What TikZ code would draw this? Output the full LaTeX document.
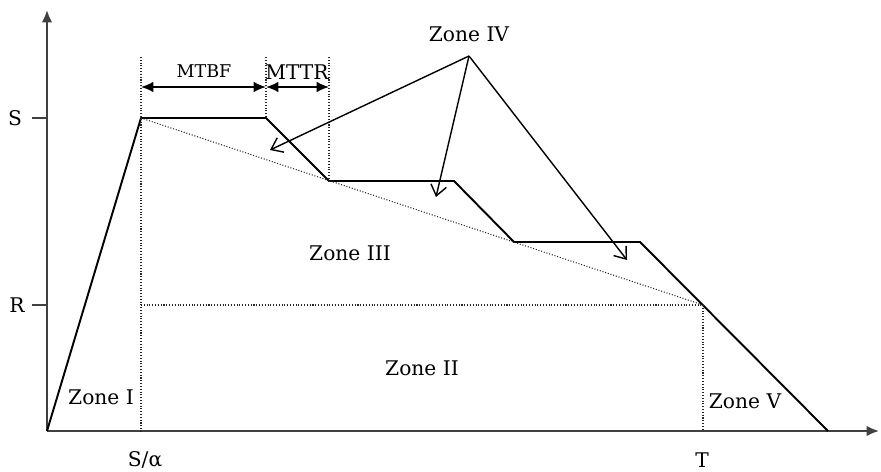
\documentclass[tikz,border=0pt]{standalone}
\usepackage{fontspec}
\setmainfont{DejaVu Serif}
\usetikzlibrary{arrows.meta}
\colorlet{axcol}{black!75}

\begin{document}
\begin{tikzpicture}[x=0.02cm, y=-0.02cm,
    lbl/.style={inner sep=0pt, font=\fontsize{11.5}{13}\selectfont},
    guide/.style={line width=0.6pt, densely dotted, black!85},
    curve/.style={line width=1.1pt, line join=round},
    dim/.style={line width=0.9pt, {Latex[length=7pt,width=6pt]}-{Latex[length=7pt,width=6pt]}},
    pointer/.style={line width=0.8pt, -{Straight Barb[length=6pt,width=9pt]}}]
  \useasboundingbox (0,0) rectangle (881,472);

  % axes
  \coordinate (O) at (47,431);
  \coordinate (ytop) at (47,10);
  \coordinate (xend) at (879,431);
  \draw[line width=1.2pt, axcol, -{Latex[length=7pt,width=6pt]}] (O) -- (ytop);
  \draw[line width=1.2pt, axcol, -{Latex[length=7pt,width=6pt]}] (O) -- (xend);
  \draw[line width=1.2pt, axcol] (32,118) -- (47,118);
  \draw[line width=1.2pt, axcol] (32,305) -- (47,305);
  \node[lbl] (lS) at (15,118) {S};
  \node[lbl] (lR) at (17,305) {R};
  \node[lbl] (lSa) at (145,460) {S/α};
  \node[lbl] (lT) at (702,460) {T};

  % breakdown profile
  \coordinate (p1) at (141,118);
  \coordinate (p2) at (266,118);
  \coordinate (p3) at (329,181);
  \coordinate (p4) at (454,181);
  \coordinate (p5) at (514,242);
  \coordinate (p6) at (640,242);
  \coordinate (pR) at (703,305);
  \coordinate (p7) at (828,431);
  \draw[curve] (O) -- (p1) -- (p2) -- (p3) -- (p4) -- (p5) -- (p6) -- (p7);

  % guide lines
  \draw[guide] (p1) -- (pR);
  \draw[guide] (141,57) -- (141,431);
  \draw[guide] (266,57) -- (p2);
  \draw[guide] (329,57) -- (p3);
  \draw[guide] (p1 |- pR) -- (pR);
  \draw[guide] (pR) -- (pR |- O);

  % MTBF / MTTR
  \draw[dim] (141,87) -- (266,87);
  \draw[dim] (266,87) -- (329,87);
  \node[lbl, font=\fontsize{10}{12}\selectfont] (mtbf) at (204,71) {MTBF};
  \node[lbl] (mttr) at (297,72) {MTTR};

  % zones
  \node[lbl] (z1) at (101,397) {Zone I};
  \node[lbl] (z2) at (422,368) {Zone II};
  \node[lbl] (z3) at (350,253) {Zone III};
  \node[lbl] (z4) at (469,34) {Zone IV};
  \node[lbl] (z5) at (745,401) {Zone V};

  \coordinate (apex) at (469,56);
  \coordinate (t1) at (270,150);
  \coordinate (t2) at (436,197);
  \coordinate (t3) at (627,260);
  \draw[pointer] (apex) -- (t1);
  \draw[pointer] (apex) -- (t2);
  \draw[pointer] (apex) -- (t3);
\end{tikzpicture}
\end{document}
